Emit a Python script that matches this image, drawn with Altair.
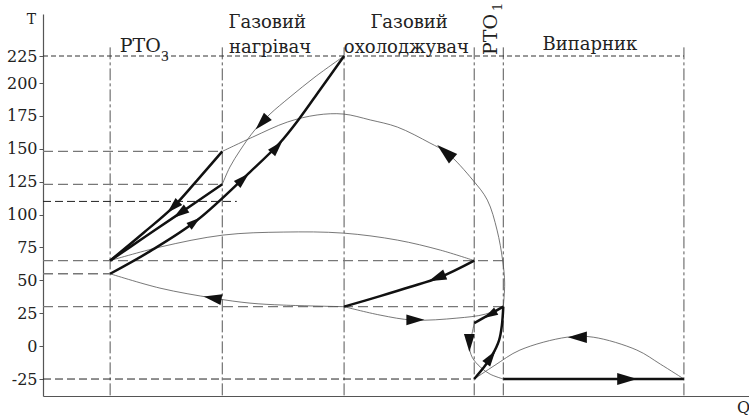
import altair as alt
import pandas as pd

# Heat-exchanger boundaries along Q (arbitrary heat units)
bounds_q = [9.7, 25.9, 43.5, 62.3, 66.5, 92.6]
bound_top = 233
t_floor = -37.9

# Temperature guide levels and where each guide stops along Q
guide_t = [225, 148, 123, 110, 65, 55, 30, -25]
guide_end = [92.6, 25.9, 25.9, 28.0, 66.5, 9.7, 66.5, 62.3]
guide_style = ["fine", "grey", "grey", "dark", "grey", "grey", "grey", "dark"]

t_ticks = [-25, 0, 25, 50, 75, 100, 125, 150, 175, 200, 225]

# Process lines, points listed in flow order: (Q, T)
a_q = [9.7, 15.5, 22.3, 29.9, 34.2, 37.1, 40.0, 43.5]
a_t = [55, 72.2, 95.8, 132.3, 154.4, 173.4, 194.7, 225]
b_q = [43.5, 39.3, 35.7, 32.8, 30.6, 28.5, 27.0, 25.9]
b_t = [225, 205.6, 189.4, 176.4, 164.3, 149.0, 136.1, 123]
c_q = [25.9, 22.3, 18.8, 14.5, 9.7]
c_t = [148, 126.2, 105.7, 86.0, 65]
d_q = [25.9, 19.8, 14.7, 9.7]
d_t = [123, 101.1, 82.9, 65]
e_q = [25.9, 30.3, 35.3, 39.6, 43.4, 47.3, 51.2, 55.9, 58.4, 62.1, 64.2, 65.6, 66.4, 66.7, 66.5]
e_t = [148, 158.9, 170.3, 175.7, 176.4, 171.9, 166.5, 154.4, 146.8, 126.2, 111.0, 88.2, 65.4, 48.0, 30]
f_q = [9.7, 16.9, 26.0, 34.7, 43.4, 51.2, 57.4, 62.3]
f_t = [65, 75.3, 84.4, 86.7, 85.9, 80.6, 73.0, 65]
g_q = [43.5, 34.7, 29.9, 24.6, 16.9, 9.7]
g_t = [30, 31.2, 32.7, 36.5, 44.1, 55]
h_q = [62.3, 57.4, 53.0, 48.7, 43.5]
h_t = [65, 52.5, 44.9, 38.0, 30]
i_q = [43.5, 48.7, 53.5, 59.8, 63.9, 66.5]
i_t = [30, 23.6, 19.8, 21.3, 24.3, 30]
j_q = [66.5, 62.3]
j_t = [30, 17.5]
k_q = [62.3, 62.0, 61.6, 62.0, 63.2, 64.6, 66.5]
k_t = [17.5, 9.9, 0.8, -8.4, -16.0, -21.3, -25]
l_q = [62.3, 63.6, 64.9, 65.9, 66.3, 66.5]
l_t = [-25, -16.7, -6.8, 4.6, 16.0, 30]
m_q = [62.3, 65.3, 68.9, 75.7, 79.5, 85.8, 89.2, 92.6]
m_t = [-25, -14.5, -3.0, 6.8, 6.8, -3.0, -13.7, -25]
n_q = [66.5, 92.6]
n_t = [-25, -25]

thick_lines = {"A": (a_q, a_t), "C": (c_q, c_t), "D": (d_q, d_t), "H": (h_q, h_t),
               "J": (j_q, j_t), "L": (l_q, l_t), "N": (n_q, n_t)}
thin_lines = {"B": (b_q, b_t), "E": (e_q, e_t), "F": (f_q, f_t), "G": (g_q, g_t),
              "I": (i_q, i_t), "K": (k_q, k_t), "M": (m_q, m_t)}

# Flow-direction arrowheads: position, heading (deg, clockwise from up), length
arr_q = [21.9, 28.9, 33.8, 31.6, 18.8, 19.8, 58.1, 24.5, 56.9, 53.8, 64.6, 61.6, 64.7, 77.2, 84.4]
arr_t = [94.3, 127, 151.3, 169.6, 105.7, 101.1, 147.7, 36.5, 51.8, 20.0, 24.0, 2.3, -8.4, 6.8, -25]
arr_angle = [52, 47, 42, 223, 226, 235, 311, 280, 248, 90, 240, 180, 35, 270, 90]
arr_len = [14, 16, 16, 18, 16, 16, 21, 18, 18, 18, 14, 18, 16, 19, 20]

# Section captions
cap_text = ["Газовий", "нагрівач", "Газовий", "охолоджувач", "Випарник"]
cap_q = [32.4, 32.8, 52.9, 52.5, 79.0]
cap_t = [250.9, 227.8, 250.9, 227.8, 230.6]
rto3_text = ["РТО", "3"]
rto3_q = [11.1, 17.0]
rto3_t = [228.7, 220.4]
rto3_size = [19, 13]
rto1_text = ["РТО", "1"]
rto1_q = [65.6, 66.3]
rto1_t = [225.9, 266.7]
rto1_size = [19, 13]

FONT = "DejaVu Serif"


def frame(lines):
    rows = []
    for name, (qs, ts) in lines.items():
        for k, (q, t) in enumerate(zip(qs, ts)):
            rows.append({"curve": name, "i": k, "Q": q, "T": t})
    return pd.DataFrame(rows)


x_scale = alt.Scale(domain=[0, 102], nice=False, zero=False)
y_scale = alt.Scale(domain=[t_floor, 200, 225, 263.9], range=[382, 69, 42, 0],
                    nice=False, zero=False)

x_axis = alt.Axis(title="Q", labels=False, ticks=False, grid=False,
                  domainColor="#555", domainWidth=1.2,
                  titleX=700, titleY=16, titleAlign="center", titleBaseline="alphabetic",
                  titleFont=FONT, titleFontSize=16, titleFontWeight="normal", titleColor="#222")
y_axis = alt.Axis(title="T", values=t_ticks, grid=False, labelExpr="'' + datum.value",
                  labelFont=FONT, labelFontSize=16, labelColor="#222", labelPadding=2,
                  tickSize=4, tickColor="#555", domainColor="#555", domainWidth=1.2,
                  titleAngle=0, titleX=-12, titleY=9, titleAlign="center",
                  titleBaseline="alphabetic", titleFont=FONT, titleFontSize=14,
                  titleFontWeight="normal", titleColor="#222")

X = alt.X("Q:Q", scale=x_scale, axis=x_axis)
Y = alt.Y("T:Q", scale=y_scale, axis=y_axis)

bounds_df = pd.DataFrame({"Q": bounds_q, "T": [bound_top] * len(bounds_q),
                          "T2": [t_floor] * len(bounds_q)})
verticals = alt.Chart(bounds_df).mark_rule(
    color="#555", strokeWidth=1, strokeDash=[12, 3, 3, 3]
).encode(x=X, y=Y, y2="T2:Q")

guides_df = pd.DataFrame({"Q": [0] * len(guide_t), "Q2": guide_end, "T": guide_t,
                          "style": guide_style})
dash_styles = {"fine": ("#333", [5, 3], 1.0), "grey": ("#777", [10, 5], 1.3),
               "dark": ("#222", [8, 4], 1.0)}
guide_layers = []
for style, (col, dash, w) in dash_styles.items():
    guide_layers.append(
        alt.Chart(guides_df[guides_df["style"] == style]).mark_rule(
            color=col, strokeDash=dash, strokeWidth=w
        ).encode(x=X, x2="Q2:Q", y=Y)
    )

thin = alt.Chart(frame(thin_lines)).mark_line(
    color="#555", strokeWidth=0.8, interpolate="catmull-rom"
).encode(x=X, y=Y, detail="curve:N", order="i:Q")

thick = alt.Chart(frame(thick_lines)).mark_line(
    color="#111", strokeWidth=2.5, interpolate="catmull-rom"
).encode(x=X, y=Y, detail="curve:N", order="i:Q")

arrows_df = pd.DataFrame({"Q": arr_q, "T": arr_t, "ang": arr_angle,
                          "sz": [v * v for v in arr_len]})
arrows = alt.Chart(arrows_df).mark_point(
    shape="M0,-1L0.6,1L-0.6,1Z", filled=True, color="#111", opacity=1, strokeWidth=0
).encode(x=X, y=Y, angle=alt.Angle("ang:Q", scale=None), size=alt.Size("sz:Q", scale=None))

caps = alt.Chart(pd.DataFrame({"Q": cap_q, "T": cap_t, "txt": cap_text})).mark_text(
    font=FONT, fontSize=18, align="center", baseline="alphabetic", color="#222"
).encode(x=X, y=Y, text="txt:N")

rto3 = alt.Chart(pd.DataFrame({"Q": rto3_q, "T": rto3_t, "txt": rto3_text,
                               "fs": rto3_size})).mark_text(
    font=FONT, align="left", baseline="alphabetic", color="#222"
).encode(x=X, y=Y, text="txt:N", size=alt.Size("fs:Q", scale=None))

rto1 = alt.Chart(pd.DataFrame({"Q": rto1_q, "T": rto1_t, "txt": rto1_text,
                               "fs": rto1_size})).mark_text(
    font=FONT, align="left", baseline="alphabetic", angle=270, color="#222"
).encode(x=X, y=Y, text="txt:N", size=alt.Size("fs:Q", scale=None))

chart = alt.layer(verticals, *guide_layers, thin, thick, arrows, caps, rto3, rto1).properties(
    width=706, height=382, autosize="none",
    padding={"left": 43, "top": 14, "right": 0, "bottom": 19},
    background="white",
).configure_view(stroke=None)

chart.save("out.html", embed_options={"renderer": "svg", "actions": False})
